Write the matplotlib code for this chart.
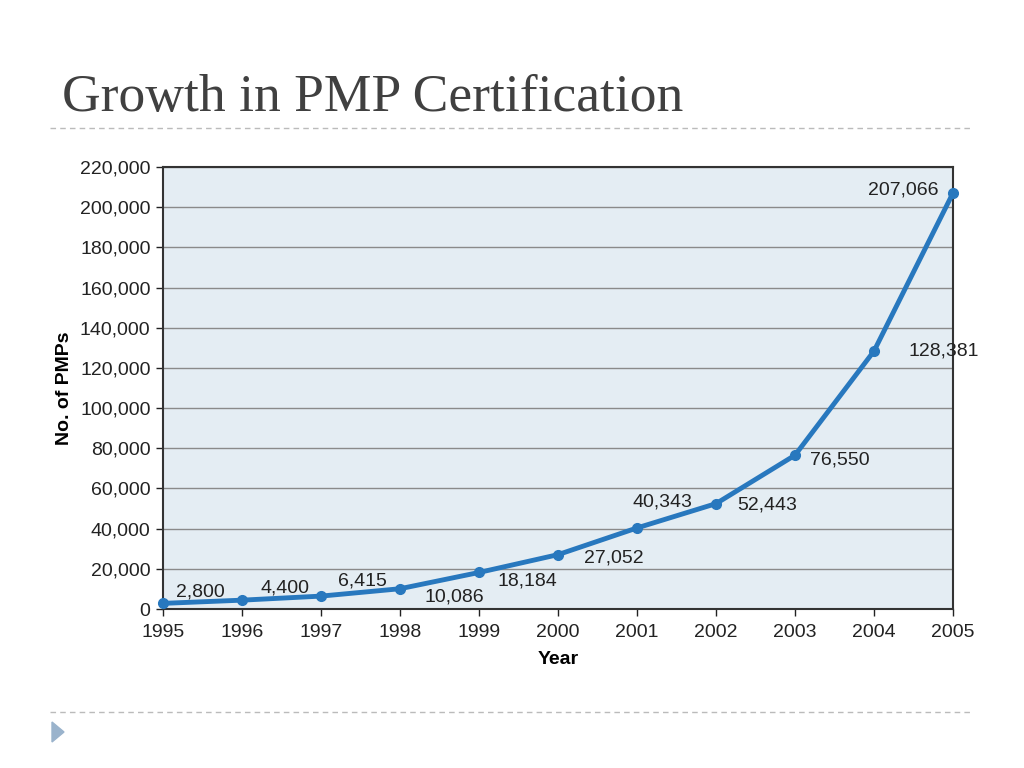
import matplotlib
matplotlib.use('Agg')
import matplotlib.pyplot as plt
from matplotlib.ticker import FuncFormatter
from matplotlib.lines import Line2D
from matplotlib.patches import Polygon

# data
years = [1995, 1996, 1997, 1998, 1999, 2000, 2001, 2002, 2003, 2004, 2005]
pmps = [2800, 4400, 6415, 10086, 18184, 27052, 40343, 52443, 76550, 128381, 207066]
labels = ['2,800', '4,400', '6,415', '10,086', '18,184', '27,052',
          '40,343', '52,443', '76,550', '128,381', '207,066']
# label offsets in points (dx, dy)
offsets = [(27, 8), (31, 9), (30, 11), (39, -6), (35, -6), (40, -2.5),
           (18, 19), (37, -1), (32, -3.5), (50, 0), (-36, 2)]

plt.rcParams['font.family'] = ['Liberation Sans', 'DejaVu Sans']

fig = plt.figure(figsize=(10.24, 7.68), dpi=100)
fig.patch.set_facecolor('white')

# slide title and decorations
fig.text(62 / 1024, 1 - 98 / 768, 'Growth in PMP Certification', family='Liberation Serif',
         fontsize=38.5, color='#404040', va='center', ha='left')
for y in [128, 712]:
    fig.add_artist(Line2D([50 / 1024, 972 / 1024], [1 - y / 768, 1 - y / 768],
                          color='#bbbbbb', lw=1, ls=(0, (4, 3))))
fig.add_artist(Polygon([[52 / 1024, 1 - 722 / 768], [52 / 1024, 1 - 742 / 768], [64 / 1024, 1 - 732 / 768]],
                       closed=True, color='#9ab3cc', transform=fig.transFigure))

ax = fig.add_axes([163 / 1024, 1 - 609 / 768, 790 / 1024, 442 / 768])
ax.set_facecolor('#e4edf3')
ax.set_xlim(1995, 2005)
ax.set_ylim(0, 220000)
ax.set_yticks(range(0, 220001, 20000))
ax.set_xticks(years)
ax.yaxis.set_major_formatter(FuncFormatter(lambda v, p: f'{int(v):,}'))
ax.grid(axis='y', color='#8a8a8a', lw=1)
ax.set_axisbelow(True)
for s in ax.spines.values():
    s.set_color('#333333')
    s.set_linewidth(1.5)
ax.tick_params(axis='both', labelsize=14, colors='#222222', length=5, width=1)
ax.tick_params(axis='x', pad=6)
ax.tick_params(axis='y', pad=4)

ax.plot(years, pmps, color='#2878be', lw=3.5, marker='o', ms=7, clip_on=False, zorder=3)
for x, y, t, (dx, dy) in zip(years, pmps, labels, offsets):
    ax.annotate(t, (x, y), xytext=(dx, dy), textcoords='offset points',
                ha='center', va='center', fontsize=14, color='#222222')

ax.set_xlabel('Year', fontsize=14, fontweight='bold', labelpad=7)
ax.set_ylabel('No. of PMPs', fontsize=14, fontweight='bold', labelpad=5)

fig.savefig('out.png', dpi=100)
